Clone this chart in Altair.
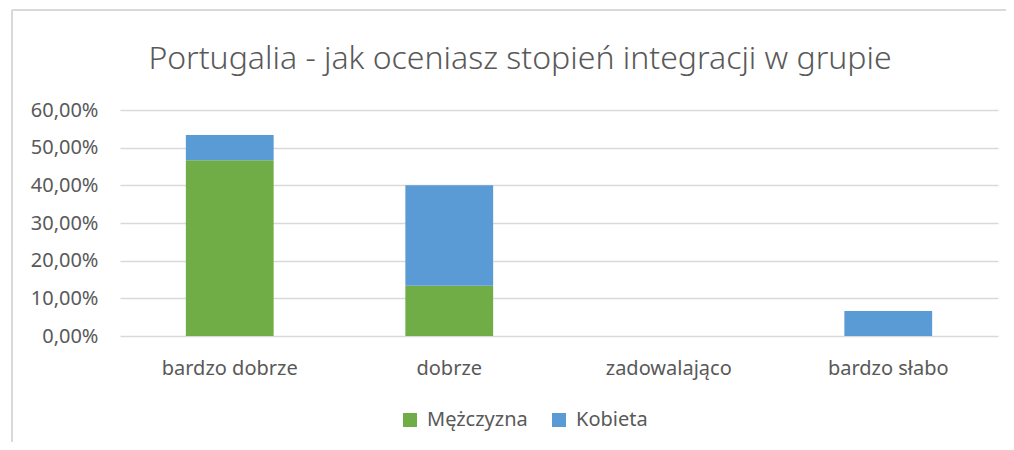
import altair as alt
import pandas as pd

categories = ["bardzo dobrze", "dobrze", "zadowalająco", "bardzo słabo"]
series = ["Mężczyzna", "Kobieta"]
men = [0.4667, 0.1333, 0.0, 0.0]
women = [0.0667, 0.2667, 0.0, 0.0667]
colors = ["#70AD47", "#5B9BD5"]

rows = []
for i, c in enumerate(categories):
    rows.append({"kategoria": c, "płeć": series[0], "wartość": men[i], "ord": 0})
    rows.append({"kategoria": c, "płeć": series[1], "wartość": women[i], "ord": 1})
df = pd.DataFrame(rows)

FONT = "Noto Sans"
GREY = "#595959"

bars = alt.Chart(df).mark_bar().encode(
    x=alt.X("kategoria:N", sort=categories,
            scale=alt.Scale(paddingInner=0.6, paddingOuter=0.3),
            axis=alt.Axis(title=None, labelAngle=0, domain=False, ticks=False,
                          labelPadding=22, labelFontSize=20, labelColor=GREY,
                          labelFont=FONT, grid=False)),
    y=alt.Y("sum(wartość):Q", stack="zero",
            scale=alt.Scale(domain=[0, 0.6]),
            axis=alt.Axis(title=None, values=[0, 0.1, 0.2, 0.3, 0.4, 0.5, 0.6],
                          labelExpr="replace(format(datum.value, '.2%'), '.', ',')",
                          domain=False, ticks=False, labelPadding=22,
                          labelFontSize=20, labelColor=GREY, labelFont=FONT,
                          gridColor="#D9D9D9", gridWidth=1.5)),
    color=alt.Color("płeć:N", sort=series,
                    scale=alt.Scale(domain=series, range=colors),
                    legend=alt.Legend(title=None, orient="none", direction="horizontal",
                                      legendX=280, legendY=300,
                                      symbolType="square", symbolSize=196,
                                      symbolStrokeWidth=0,
                                      labelFontSize=20, labelColor=GREY, labelFont=FONT,
                                      columnPadding=21, labelOffset=7)),
    order=alt.Order("ord:Q"),
)

frame_top = alt.Chart(df).mark_rule(color="#D9D9D9", strokeWidth=1.5).encode(
    x=alt.value(-108), x2=alt.value(886), y=alt.value(-100)
)
frame_left = alt.Chart(df).mark_rule(color="#D9D9D9", strokeWidth=1.5).encode(
    x=alt.value(-108), y=alt.value(-100), y2=alt.value(332)
)

chart = alt.layer(bars, frame_top, frame_left).properties(
    width=878, height=226,
    title=alt.TitleParams("Portugalia - jak oceniasz stopień integracji w grupie",
                          fontSize=32, font=FONT, fontWeight=300, color=GREY,
                          anchor="middle", frame="group", dx=-39, dy=100, offset=33),
    autosize=alt.AutoSizeParams(type="none"),
    padding={"left": 112, "top": 102, "right": 8, "bottom": 106},
).configure_view(stroke=None)

chart.save("out.html", embed_options={"renderer": "svg", "actions": False})
